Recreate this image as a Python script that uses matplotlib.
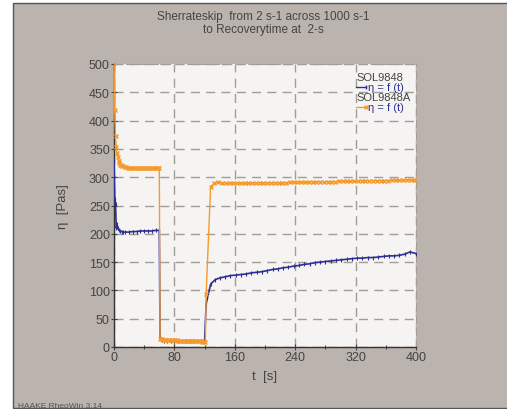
import matplotlib
matplotlib.use("Agg")
import matplotlib.pyplot as plt
from matplotlib.patches import Rectangle

plt.rcParams['font.family'] = ['Liberation Sans', 'DejaVu Sans']

# SOL9848 (blue)
t_blue = [0, 1, 2, 3, 4, 5, 6, 8, 10, 12, 15, 20, 25, 30, 35, 40, 45, 50, 55, 60,
          61, 62, 63, 66, 70, 75, 80, 85, 90, 95, 100, 105, 110, 115, 120, 122,
          128, 134, 140, 147, 154, 161, 168, 175, 182, 189, 196, 203, 210, 217,
          224, 231, 238, 245, 252, 259, 266, 273, 280, 287, 294, 301, 308, 315,
          322, 329, 336, 343, 350, 357, 364, 371, 378, 385, 392, 400]
eta_blue = [326, 262, 253, 210, 217, 210, 207, 205, 204, 203, 203, 203, 204, 204, 205, 205, 205, 205, 206, 206,
            18, 14, 12, 11, 11, 10, 10, 10, 10, 10, 10, 10, 10, 10, 10, 76,
            111, 119, 122, 124, 126, 127, 128, 129, 131, 132, 133, 135, 137, 138,
            140, 141, 143, 144, 146, 147, 149, 150, 151, 152, 153, 154, 155, 156,
            157, 157, 158, 158, 159, 160, 161, 161, 162, 164, 168, 165]

# SOL9848A (orange)
t_orange = [0, 1, 2, 3, 4, 5, 6, 7, 8, 9, 10, 12, 14, 16, 18, 20, 22, 24, 26, 28, 30, 32, 34, 36,
            38, 40, 42, 44, 46, 48, 50, 52, 54, 56, 58, 60,
            61, 63, 65, 67, 69, 71, 73, 75, 77, 79, 81, 83, 85, 87, 89, 91, 93, 95, 97, 99,
            101, 103, 105, 107, 109, 111, 113, 115, 117, 119, 121, 122,
            128, 133, 138, 143, 148, 153, 158, 163, 168, 173, 178, 183, 188, 193, 198, 203,
            208, 213, 218, 223, 228, 233, 238, 243, 248, 253, 258, 263, 268, 273, 278, 283,
            288, 293, 298, 303, 308, 313, 318, 323, 328, 333, 338, 343, 348, 353, 358, 363,
            368, 373, 378, 383, 388, 393, 398, 400]
eta_orange = [520, 418, 372, 354, 343, 335, 329, 325, 322, 321, 320, 319, 318, 318, 317, 317, 317, 317, 316, 316, 316, 316, 316, 316,
              316, 316, 316, 316, 316, 316, 316, 316, 316, 317, 317, 317,
              14, 14, 13, 13, 13, 13, 12, 12, 12, 12, 12, 12, 11, 11, 11, 11, 11, 11, 11, 10,
              10, 10, 10, 10, 10, 10, 10, 10, 9, 9, 9, 93,
              283, 290, 291, 290, 290, 289, 289, 289, 289, 289, 289, 289, 290, 290, 290, 290,
              290, 290, 290, 290, 290, 291, 291, 291, 291, 291, 291, 292, 292, 292, 292, 292,
              292, 292, 293, 293, 293, 293, 293, 293, 294, 294, 294, 294, 294, 294, 294, 294,
              295, 295, 295, 295, 295, 295, 295, 295]

x_ticks = [0, 80, 160, 240, 320, 400]
y_ticks = [0, 50, 100, 150, 200, 250, 300, 350, 400, 450, 500]

bg = "#bbb3ae"
txt = "#444444"
blue = "#2b2f95"
orange = "#f59a2c"
gridc = "#a39c97"

fig = plt.figure(figsize=(5.07, 4.10), dpi=100)
fig.patch.set_facecolor("white")
fig.patches.append(Rectangle((13 / 507, 1 / 410), 1, 405 / 410, transform=fig.transFigure,
                             facecolor=bg, edgecolor="#555555", linewidth=1.0, zorder=-1))

ax = fig.add_axes([114 / 507, 62 / 410, 302 / 507, 283 / 410])
ax.set_facecolor("#f5f4f2")

ax.plot(t_blue, eta_blue, color=blue, lw=1.2, marker="|", ms=3, mew=0.8, zorder=3)
ax.plot(t_orange, eta_orange, color=orange, lw=1.0, marker="x", ms=3.5, mew=1.0, zorder=4)

ax.set_xlim(0, 400)
ax.set_ylim(0, 500)
ax.set_xticks(x_ticks)
ax.set_yticks(y_ticks)
ax.set_xticks([40, 120, 200, 280, 360], minor=True)
ax.tick_params(axis="both", which="both", direction="inout", colors=txt, labelsize=9,
               length=4, width=0.8, pad=1)
ax.tick_params(axis="x", which="minor", length=3)
ax.grid(True, which="major", linestyle=(0, (6.5, 4.5)), color=gridc, linewidth=1.0)

for s in ["top", "right"]:
    ax.spines[s].set_linestyle((0, (6.5, 4.5)))
    ax.spines[s].set_color(gridc)
for s in ["left", "bottom"]:
    ax.spines[s].set_color("#333333")
    ax.spines[s].set_linewidth(1.0)

ax.set_xlabel("t  [s]", color=txt, fontsize=9.5, labelpad=5)
ax.set_ylabel("η  [Pas]", color=txt, fontsize=9.5, labelpad=14)

fig.text(263 / 507, 1 - 17 / 410, "Sherrateskip  from 2 s-1 across 1000 s-1",
         ha="center", va="center", fontsize=8.5, color=txt)
fig.text(263 / 507, 1 - 30 / 410, "to Recoverytime at  2-s",
         ha="center", va="center", fontsize=8.5, color=txt)

# legend drawn as text like the rheowin export
ax.text(356 / 507, 1 - 78 / 410, "SOL9848", transform=fig.transFigure,
        fontsize=8, color=txt, va="center", ha="left")
ax.text(368 / 507, 1 - 88 / 410, "η = f (t)", transform=fig.transFigure,
        fontsize=8, color=blue, va="center", ha="left")
ax.text(356 / 507, 1 - 98 / 410, "SOL9848A", transform=fig.transFigure,
        fontsize=8, color=txt, va="center", ha="left")
ax.text(368 / 507, 1 - 108 / 410, "η = f (t)", transform=fig.transFigure,
        fontsize=8, color=blue, va="center", ha="left")
fig.lines.append(plt.Line2D([356 / 507, 366 / 507], [1 - 88 / 410] * 2, transform=fig.transFigure,
                            color=blue, lw=1.0, marker="|", ms=3, markevery=[1]))
fig.lines.append(plt.Line2D([356 / 507, 366 / 507], [1 - 108 / 410] * 2, transform=fig.transFigure,
                            color=orange, lw=1.0, marker="x", ms=3, markevery=[1]))

fig.text(18 / 507, 0 / 410, "HAAKE RheoWin 3.14", fontsize=6, color="#555555",
         ha="left", va="bottom")

fig.savefig("out.png", dpi=100)
